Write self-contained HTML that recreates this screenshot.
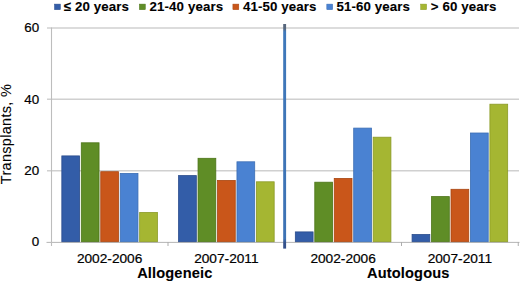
<!DOCTYPE html>
<html><head><meta charset="utf-8"><style>
html,body{margin:0;padding:0;background:#fff;width:520px;height:282px;overflow:hidden}
svg{display:block}
text{font-family:"Liberation Sans",sans-serif;fill:#000;stroke:#000;stroke-width:0.2px}
.t{font-size:13.4px}
.xl{font-size:13.7px}
.b{font-size:14.6px;font-weight:bold;letter-spacing:0.15px;stroke-width:0.1px}
.yt{font-size:14.5px;letter-spacing:0.3px;stroke-width:0.1px}
.lg{font-size:13.3px;font-weight:bold;stroke-width:0.1px;letter-spacing:0.1px}
</style></head><body>
<svg width="520" height="282" viewBox="0 0 520 282">
<defs><linearGradient id="sep" x1="0" y1="24" x2="0" y2="248.6" gradientUnits="userSpaceOnUse">
<stop offset="0" stop-color="#56667C"/><stop offset="0.02" stop-color="#56667C"/><stop offset="0.035" stop-color="#3F78BA"/>
<stop offset="0.955" stop-color="#3D72B4"/><stop offset="0.975" stop-color="#34508A"/><stop offset="1" stop-color="#34508A"/></linearGradient></defs>
<line x1="47" x2="519" y1="170.67" y2="170.67" stroke="#D0D0D0" stroke-width="1.5"/>
<line x1="47" x2="519" y1="99.33" y2="99.33" stroke="#D0D0D0" stroke-width="1.5"/>
<line x1="47" x2="519" y1="28.00" y2="28.00" stroke="#D0D0D0" stroke-width="1.5"/>
<rect x="61.83" y="155.90" width="17.76" height="86.10" fill="#335DA8" stroke="#2A4C8C" stroke-width="0.8"/>
<rect x="81.29" y="142.80" width="17.76" height="99.20" fill="#5F8D26" stroke="#4C7418" stroke-width="0.8"/>
<rect x="100.75" y="171.70" width="17.76" height="70.30" fill="#C9561A" stroke="#A84612" stroke-width="0.8"/>
<rect x="120.20" y="173.40" width="17.76" height="68.60" fill="#4A82D2" stroke="#3C6EB4" stroke-width="0.8"/>
<rect x="139.66" y="212.50" width="17.76" height="29.50" fill="#A5B632" stroke="#8A9A26" stroke-width="0.8"/>
<rect x="178.58" y="175.60" width="17.76" height="66.40" fill="#335DA8" stroke="#2A4C8C" stroke-width="0.8"/>
<rect x="198.04" y="158.30" width="17.76" height="83.70" fill="#5F8D26" stroke="#4C7418" stroke-width="0.8"/>
<rect x="217.50" y="180.40" width="17.76" height="61.60" fill="#C9561A" stroke="#A84612" stroke-width="0.8"/>
<rect x="236.95" y="161.80" width="17.76" height="80.20" fill="#4A82D2" stroke="#3C6EB4" stroke-width="0.8"/>
<rect x="256.41" y="181.80" width="17.76" height="60.20" fill="#A5B632" stroke="#8A9A26" stroke-width="0.8"/>
<rect x="295.33" y="231.90" width="17.76" height="10.10" fill="#335DA8" stroke="#2A4C8C" stroke-width="0.8"/>
<rect x="314.79" y="182.20" width="17.76" height="59.80" fill="#5F8D26" stroke="#4C7418" stroke-width="0.8"/>
<rect x="334.25" y="178.40" width="17.76" height="63.60" fill="#C9561A" stroke="#A84612" stroke-width="0.8"/>
<rect x="353.70" y="128.10" width="17.76" height="113.90" fill="#4A82D2" stroke="#3C6EB4" stroke-width="0.8"/>
<rect x="373.16" y="137.20" width="17.76" height="104.80" fill="#A5B632" stroke="#8A9A26" stroke-width="0.8"/>
<rect x="412.08" y="234.50" width="17.76" height="7.50" fill="#335DA8" stroke="#2A4C8C" stroke-width="0.8"/>
<rect x="431.54" y="196.60" width="17.76" height="45.40" fill="#5F8D26" stroke="#4C7418" stroke-width="0.8"/>
<rect x="451.00" y="189.30" width="17.76" height="52.70" fill="#C9561A" stroke="#A84612" stroke-width="0.8"/>
<rect x="470.45" y="133.00" width="17.76" height="109.00" fill="#4A82D2" stroke="#3C6EB4" stroke-width="0.8"/>
<rect x="489.91" y="104.20" width="17.76" height="137.80" fill="#A5B632" stroke="#8A9A26" stroke-width="0.8"/>
<line x1="46.5" x2="519.5" y1="242.4" y2="242.4" stroke="#ADADAD" stroke-width="0.9"/>
<line x1="51.5" x2="51.5" y1="27.5" y2="246" stroke="#BDBDBD" stroke-width="1.1"/>
<line x1="168.00" x2="168.00" y1="242" y2="246" stroke="#ADADAD" stroke-width="1"/>
<line x1="401.50" x2="401.50" y1="242" y2="246" stroke="#ADADAD" stroke-width="1"/>
<line x1="518.25" x2="518.25" y1="242" y2="246" stroke="#ADADAD" stroke-width="1"/>
<rect x="283.2" y="24" width="2.9" height="224.6" fill="url(#sep)"/>
<text x="39.2" y="246.40" text-anchor="end" class="t">0</text>
<text x="39.2" y="175.07" text-anchor="end" class="t">20</text>
<text x="39.2" y="103.73" text-anchor="end" class="t">40</text>
<text x="39.2" y="32.40" text-anchor="end" class="t">60</text>
<text x="109.62" y="262.5" text-anchor="middle" class="xl">2002-2006</text>
<text x="226.38" y="262.5" text-anchor="middle" class="xl">2007-2011</text>
<text x="343.12" y="262.5" text-anchor="middle" class="xl">2002-2006</text>
<text x="459.88" y="262.5" text-anchor="middle" class="xl">2007-2011</text>
<text x="174.8" y="277.6" text-anchor="middle" class="b">Allogeneic</text>
<text x="408.3" y="277.6" text-anchor="middle" class="b">Autologous</text>
<text transform="translate(11.3,134) rotate(-90)" text-anchor="middle" class="yt">Transplants, %</text>
<rect x="54.50" y="4.1" width="5.9" height="5.6" fill="#335DA8" stroke="#2A4C8C" stroke-width="0.5"/>
<text x="63.8" y="11" class="lg">≤ 20 years</text>
<rect x="139.40" y="4.1" width="5.9" height="5.6" fill="#5F8D26" stroke="#4C7418" stroke-width="0.5"/>
<text x="149.6" y="11" class="lg">21-40 years</text>
<rect x="232.90" y="4.1" width="5.9" height="5.6" fill="#C9561A" stroke="#A84612" stroke-width="0.5"/>
<text x="243" y="11" class="lg">41-50 years</text>
<rect x="326.80" y="4.1" width="5.9" height="5.6" fill="#4A82D2" stroke="#3C6EB4" stroke-width="0.5"/>
<text x="336.5" y="11" class="lg">51-60 years</text>
<rect x="420.70" y="4.1" width="5.9" height="5.6" fill="#A5B632" stroke="#8A9A26" stroke-width="0.5"/>
<text x="430.8" y="11" class="lg">&gt; 60 years</text>
</svg>
</body></html>
